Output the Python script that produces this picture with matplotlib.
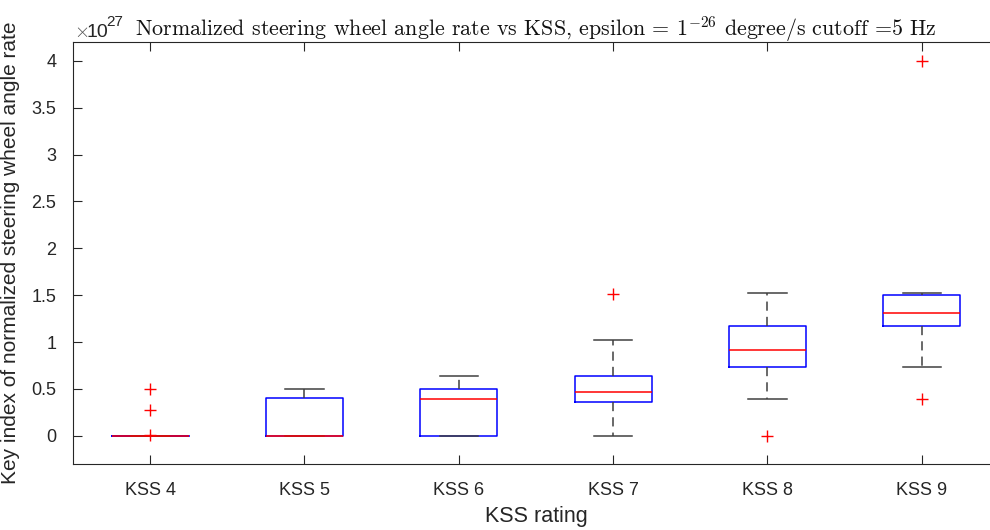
import numpy as np
import matplotlib
matplotlib.use('Agg')
import matplotlib.pyplot as plt

plt.rcParams['font.family'] = ['Liberation Sans', 'DejaVu Sans']
plt.rcParams['mathtext.fontset'] = 'cm'

# box statistics per KSS group (values in units of 1e27)
labels  = ['KSS 4', 'KSS 5', 'KSS 6', 'KSS 7', 'KSS 8', 'KSS 9']
whislo  = [0.0, 0.0, 0.0,   0.0,   0.394, 0.734]
q1      = [0.0, 0.0, 0.0,   0.362, 0.734, 1.167]
median  = [0.0, 0.0, 0.394, 0.468, 0.915, 1.309]
q3      = [0.0, 0.40, 0.50, 0.638, 1.167, 1.497]
whishi  = [0.0, 0.50, 0.635, 1.025, 1.52, 1.52]
fliers  = [[0.01, 0.28, 0.50], [], [], [1.518], [0.0], [0.394, 4.0]]

stats = []
for i in range(len(labels)):
    stats.append(dict(label=labels[i], whislo=whislo[i], q1=q1[i], med=median[i],
                      q3=q3[i], whishi=whishi[i], fliers=fliers[i]))

fig = plt.figure(figsize=(9.9, 5.3), dpi=100)
ax = fig.add_axes([73/990, 66/530, 926/990, 422/530])

ax.bxp(stats, positions=np.arange(4, 10), widths=0.5,
       boxprops=dict(color='#0000ff', lw=1.1),
       medianprops=dict(color='#ff0000', lw=1.1),
       whiskerprops=dict(color='#404040', lw=1.1, linestyle=(0, (6, 4))),
       capprops=dict(color='#404040', lw=1.1),
       flierprops=dict(marker='+', markeredgecolor='#ff0000', markersize=9,
                       markeredgewidth=1.0, linestyle='none'))

ax.set_xlim(3.5, 9.5)
ax.set_ylim(-0.3, 4.2)
ax.set_yticks(np.arange(0, 4.01, 0.5))
ax.set_yticklabels(['0', '0.5', '1', '1.5', '2', '2.5', '3', '3.5', '4'])

for sp in ax.spines.values():
    sp.set_color('#262626')
    sp.set_linewidth(0.8)
ax.tick_params(direction='in', length=6.5, width=0.8, color='#262626',
               labelcolor='#262626', labelsize=13, top=True, right=True)
ax.tick_params(axis='y', pad=12)
ax.tick_params(axis='x', pad=13)

ax.set_ylabel('Key index of normalized steering wheel angle rate', fontsize=15,
              color='#262626', labelpad=8)
ax.set_xlabel('KSS rating', fontsize=15.5, color='#262626', labelpad=5)

ax.set_title(r'Normalized steering wheel angle rate vs KSS, epsilon = $1^{-26}$ degree/s cutoff =5 Hz',
             family='cmr10', fontsize=15.8, color='#111111', pad=5)

# exponent label, MATLAB style
fig.text(74/990, 1 - 37/530, r'$\times$', fontsize=14, color='#555555', va='baseline')
fig.text(87/990, 1 - 37/530, '10', fontsize=14, color='#262626', va='baseline')
fig.text(106/990, 1 - 26/530, '27', fontsize=11, color='#262626', va='baseline')

fig.savefig('out.png', dpi=100)
